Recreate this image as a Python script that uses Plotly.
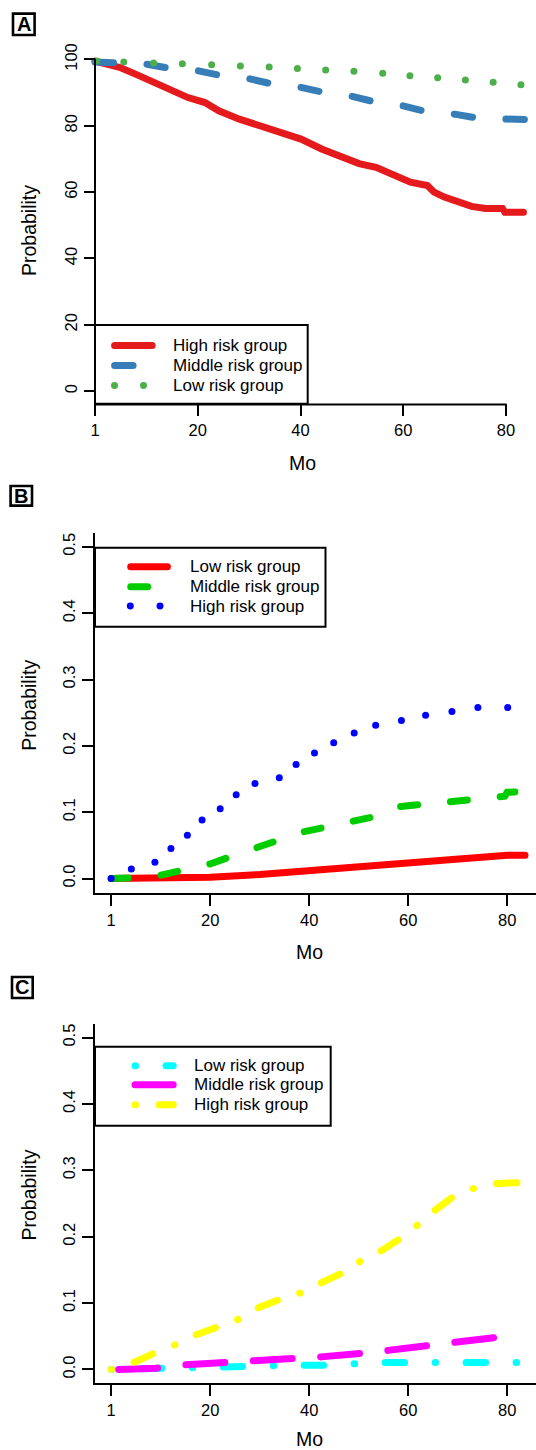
import plotly.graph_objects as go

W, H = 536, 1450

# ---------------- data ----------------
months_ticks = [0, 20, 40, 60, 80]
months_ticktext = ["1", "20", "40", "60", "80"]

# Panel A : survival probability (%)
a_high_x = [0, 2, 5, 8, 11.5, 14.8, 18.1, 21.4, 24.1, 28.1, 31.4, 34.7, 38.1, 40.1, 44.1,
            48.1, 51.4, 54.7, 58.0, 61.4, 64.7, 66.0, 68.0, 71.3, 73.3, 76.0, 79.3, 79.8, 83.4]
a_high_y = [99.5, 98.6, 97.5, 95.5, 93.0, 90.8, 88.5, 87.0, 84.5, 82.0, 80.4, 79.0, 77.0, 76.0, 73.0,
            70.5, 68.6, 67.5, 65.0, 63.0, 62.0, 60.0, 58.5, 57.0, 55.7, 55.1, 55.1, 53.9, 53.9]
a_mid_x = [0, 5, 10, 15, 20, 25, 30, 35, 40, 45, 50, 55, 60, 65, 70, 75, 80, 83.6]
a_mid_y = [99.2, 99.0, 98.6, 97.2, 96.6, 95.0, 94.2, 92.4, 91.6, 89.9, 88.9, 87.0, 86.0, 84.0,
           83.5, 82.2, 81.9, 81.9]
a_low_x = [0.3, 5.6, 11.4, 17.0, 22.7, 28.3, 33.9, 39.4, 44.9, 50.4, 56.0, 61.3, 66.7, 72.1, 77.5, 82.9]
a_low_y = [99.5, 99.2, 98.9, 98.7, 98.4, 98.0, 97.7, 97.3, 96.8, 96.4, 95.8, 95.1, 94.5, 93.8, 93.1, 92.4]
a_yticks = [0, 20, 40, 60, 80, 100]
a_names = ["High risk group", "Middle risk group", "Low risk group"]

# Panel B : probability
b_low_x = [0, 10, 20, 30, 40, 50, 60, 70, 75, 80, 83.6]
b_low_y = [0, 0.0005, 0.002, 0.006, 0.012, 0.017, 0.0245, 0.0285, 0.0335, 0.035, 0.035]
b_mid_x = [0, 5, 10, 15.5, 20, 24.5, 29.5, 33.5, 38.5, 43, 48, 53, 57.5, 62.5, 68, 73, 79.5, 80, 83.6]
b_mid_y = [0, 0.001, 0.005, 0.0135, 0.022, 0.034, 0.046, 0.056, 0.070, 0.077, 0.086, 0.093,
           0.108, 0.111, 0.116, 0.119, 0.124, 0.130, 0.131]
b_high_x = [0, 4.07, 8.83, 12.07, 15.39, 18.36, 22.02, 25.25, 29.05, 33.96, 37.35, 41.07, 44.95,
            49.09, 53.43, 58.63, 63.52, 68.84, 74.08, 80.1]
b_high_y = [0, 0.0145, 0.0246, 0.0451, 0.0652, 0.0883, 0.1053, 0.1264, 0.1434, 0.152, 0.172,
            0.1891, 0.2046, 0.2192, 0.2312, 0.2382, 0.2463, 0.2518, 0.2578, 0.2578]
bc_yticks = [0, 0.1, 0.2, 0.3, 0.4, 0.5]
bc_yticktext = ["0.0", "0.1", "0.2", "0.3", "0.4", "0.5"]
b_names = ["Low risk group", "Middle risk group", "High risk group"]

# Panel C : probability
c_low_x = [0, 6.5, 10.9, 16.3, 21.6, 27.0, 32.4, 38.1, 43.5, 48.7, 54.2, 59.6, 65.1, 70.8, 76.2, 82.0]
c_low_y = [0, 0.0015, 0.0015, 0.0015, 0.005, 0.0055, 0.0065, 0.0065, 0.0065, 0.009, 0.0105,
           0.0105, 0.0105, 0.0105, 0.0105, 0.0105]
c_mid_x = [1.5, 9.2, 13.8, 23.5, 28.0, 37.8, 42.4, 51.6, 56.2, 65.4, 69.7, 78.5]
c_mid_y = [0.0, 0.002, 0.0065, 0.010, 0.013, 0.0155, 0.019, 0.025, 0.029, 0.0355, 0.040, 0.049]
c_high_x = [0, 4.8, 10.0, 13.5, 16.9, 22.8, 26.6, 29.7, 35.2, 39.5, 42.8, 48.0, 51.0, 54.6, 59.4,
            62.1, 64.9, 69.4, 72.8, 77.7, 83.6]
c_high_y = [0, 0.0115, 0.029, 0.039, 0.0516, 0.0666, 0.078, 0.093, 0.109, 0.118, 0.132, 0.150,
            0.167, 0.179, 0.202, 0.219, 0.237, 0.262, 0.272, 0.280, 0.282]
c_names = ["Low risk group", "Middle risk group", "High risk group"]

# ---------------- styles ----------------
FONT = "Liberation Sans, Arial, sans-serif"
LW = 7
A_COL = ["#E41A1C", "#377EB8", "#4DAF4A"]
B_COL = ["#FF0000", "#00CD00", "#0000FF"]
C_COL = ["#00FFFF", "#FF00FF", "#FFFF00"]
A_DASH = ["solid", "18.5px,33.5px", None]
B_DASH = ["solid", "17px,33px", None]
C_DASH = ["0.5px,30.5px,19.5px,30.5px", "39px,28.5px", "0.5px,23.5px,20.5px,23.5px"]


def px(x):
    return x / W


def py(y):
    return 1 - y / H


fig = go.Figure()

# Panel A traces
fig.add_trace(go.Scatter(x=a_high_x, y=a_high_y, mode="lines", xaxis="x", yaxis="y",
                         line=dict(color=A_COL[0], width=LW, dash=A_DASH[0])))
fig.add_trace(go.Scatter(x=a_mid_x, y=a_mid_y, mode="lines", xaxis="x", yaxis="y",
                         line=dict(color=A_COL[1], width=LW, dash=A_DASH[1])))
fig.add_trace(go.Scatter(x=a_low_x, y=a_low_y, mode="markers", xaxis="x", yaxis="y", cliponaxis=False,
                         marker=dict(color=A_COL[2], size=7, line=dict(width=0))))
# Panel B traces
fig.add_trace(go.Scatter(x=b_low_x, y=b_low_y, mode="lines", xaxis="x2", yaxis="y2",
                         line=dict(color=B_COL[0], width=LW, dash=B_DASH[0])))
fig.add_trace(go.Scatter(x=b_mid_x, y=b_mid_y, mode="lines", xaxis="x2", yaxis="y2",
                         line=dict(color=B_COL[1], width=LW, dash=B_DASH[1])))
fig.add_trace(go.Scatter(x=b_high_x, y=b_high_y, mode="markers", xaxis="x2", yaxis="y2", cliponaxis=False,
                         marker=dict(color=B_COL[2], size=7, line=dict(width=0))))
# Panel C traces
fig.add_trace(go.Scatter(x=c_low_x, y=c_low_y, mode="lines", xaxis="x3", yaxis="y3",
                         line=dict(color=C_COL[0], width=LW, dash=C_DASH[0])))
fig.add_trace(go.Scatter(x=c_mid_x, y=c_mid_y, mode="lines", xaxis="x3", yaxis="y3",
                         line=dict(color=C_COL[1], width=LW, dash=C_DASH[1])))
fig.add_trace(go.Scatter(x=c_high_x, y=c_high_y, mode="lines", xaxis="x3", yaxis="y3",
                         line=dict(color=C_COL[2], width=LW, dash=C_DASH[2])))

tickfont = dict(family=FONT, size=16.5, color="black")
common_x = dict(tickvals=months_ticks, ticktext=months_ticktext, ticks="outside", ticklen=11,
                tickwidth=2, tickcolor="black", showgrid=False, zeroline=False, tickfont=tickfont)
common_y = dict(ticks="outside", ticklen=11, tickwidth=2, tickcolor="black", showgrid=False,
                zeroline=False, tickfont=tickfont, tickangle=-90)

fig.update_layout(
    width=W, height=H, autosize=False, showlegend=False,
    margin=dict(l=0, r=0, t=0, b=0, pad=0),
    paper_bgcolor="white", plot_bgcolor="white",
    font=dict(family=FONT, color="black"),
    # Panel A (R-style axes drawn by shapes)
    xaxis=dict(domain=[px(95 - 5.1375), 1], range=[-1, (536 - 95) / 5.1375], anchor="y",
               showline=False, **common_x),
    yaxis=dict(domain=[py(402.3), py(43.25)], range=[-4, 104], anchor="free", position=px(95),
               tickvals=a_yticks, showline=False, **common_y),
    # Panel B
    xaxis2=dict(domain=[px(95), 1], range=[-3.27, 85.82], anchor="y2", showline=True,
                linewidth=2, linecolor="black", **common_x),
    yaxis2=dict(domain=[py(891.7), py(530.7)], range=[-0.0216, 0.5215], anchor="x2",
                tickvals=bc_yticks, ticktext=bc_yticktext, showline=True, linewidth=2,
                linecolor="black", **common_y),
    # Panel C
    xaxis3=dict(domain=[px(95), 1], range=[-3.27, 85.82], anchor="y3", showline=True,
                linewidth=2, linecolor="black", **common_x),
    yaxis3=dict(domain=[py(1382.7), py(1023.4)], range=[-0.0201, 0.52], anchor="x3",
                tickvals=bc_yticks, ticktext=bc_yticktext, showline=True, linewidth=2,
                linecolor="black", **common_y),
)

shapes = []
# Panel A axis lines (R style: span tick range only)
shapes.append(dict(type="line", xref="x", yref="y domain", x0=0, x1=80, y0=0, y1=0,
                   line=dict(color="black", width=2)))
shapes.append(dict(type="line", xref="x", yref="y", x0=0, x1=0, y0=-4, y1=100,
                   line=dict(color="black", width=2)))

annotations = []


def legend(box, rows, sx0, sx1, tx, names, cols, dashes, dots):
    x0, x1, y0, y1 = box
    shapes.append(dict(type="rect", xref="paper", yref="paper", x0=px(x0), x1=px(x1),
                       y0=py(y0), y1=py(y1), line=dict(color="black", width=2),
                       fillcolor="rgba(0,0,0,0)"))
    for ry, name, col, dash in zip(rows, names, cols, dashes):
        if dash is None:
            for dx in dots:
                shapes.append(dict(type="circle", xref="paper", yref="paper",
                                   x0=px(dx - 3.5), x1=px(dx + 3.5), y0=py(ry - 3.5), y1=py(ry + 3.5),
                                   fillcolor=col, line=dict(width=0)))
        else:
            shapes.append(dict(type="line", xref="paper", yref="paper", x0=px(sx0), x1=px(sx1),
                               y0=py(ry), y1=py(ry), line=dict(color=col, width=LW, dash=dash)))
        annotations.append(dict(xref="paper", yref="paper", x=px(tx), y=py(ry), text=name,
                                showarrow=False, xanchor="left", yanchor="middle",
                                font=dict(family=FONT, size=17, color="black")))


legend((95, 307.7, 322.7, 401.7), [343.3, 363.3, 383.3], 114.6, 152.1, 170.9,
       a_names, A_COL, A_DASH, [114.5, 143.5])
legend((95, 325.5, 546, 625), [565, 585, 604.3], 130.7, 167.4, 188.0,
       b_names, B_COL, B_DASH, [130.3, 160.0])
legend((95, 330.7, 1046, 1125), [1065, 1084, 1104], 135, 173.2, 192.3,
       c_names, C_COL, C_DASH, [135, 165])

# axis titles
for (xx, yy) in [(29, 227.5), (29, 703.3), (29, 1194)]:
    annotations.append(dict(xref="paper", yref="paper", x=px(xx), y=py(yy), text="Probability",
                            textangle=-90, showarrow=False, xanchor="center", yanchor="middle",
                            font=dict(family=FONT, size=19.5, color="black")))
for (xx, yy) in [(302.6, 461.3), (309.4, 950.5), (309.4, 1439)]:
    annotations.append(dict(xref="paper", yref="paper", x=px(xx), y=py(yy), text="Mo",
                            showarrow=False, xanchor="center", yanchor="middle",
                            font=dict(family=FONT, size=19.5, color="black")))

# panel letters
for letter, (bx0, bx1, by0, by1) in [("A", (13, 34.6, 10.6, 32)), ("B", (10.6, 32, 484, 503.7)),
                                     ("C", (12, 32.7, 976, 997))]:
    shapes.append(dict(type="rect", xref="paper", yref="paper", x0=px(bx0), x1=px(bx1),
                       y0=py(by0), y1=py(by1), line=dict(color="black", width=2.6),
                       fillcolor="rgba(0,0,0,0)"))
    annotations.append(dict(xref="paper", yref="paper", x=px((bx0 + bx1) / 2),
                            y=py((by0 + by1) / 2), text="<b>%s</b>" % letter, showarrow=False,
                            xanchor="center", yanchor="middle",
                            font=dict(family=FONT, size=20, color="black")))

fig.update_layout(shapes=shapes, annotations=annotations)

post = """
document.body.style.margin='0';
var gd=document.getElementById('{plot_id}');
gd.querySelectorAll('.scatterlayer .js-line, .shapelayer path').forEach(function(p){
  p.style.strokeLinecap='round';
});
"""

fig.write_html("out.html", post_script=post, config={"displayModeBar": False})
